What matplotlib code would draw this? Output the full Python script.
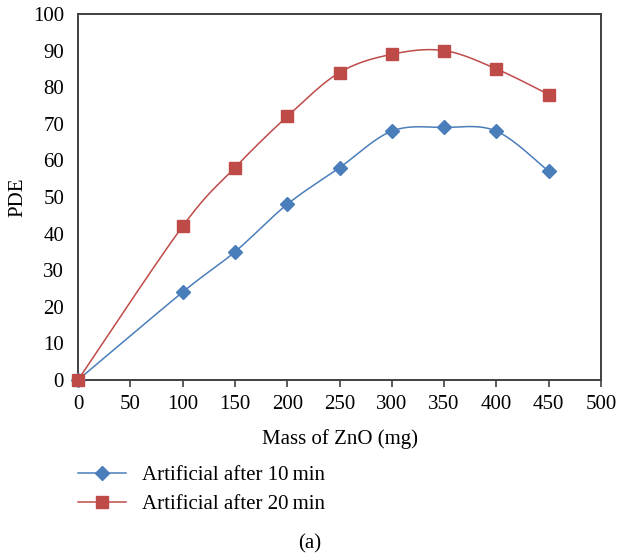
import numpy as np
import matplotlib
matplotlib.use("Agg")
import matplotlib.pyplot as plt
from matplotlib.lines import Line2D

mass = [0, 100, 150, 200, 250, 300, 350, 400, 450]
pde_10 = [0, 24, 35, 48, 58, 68, 69, 68, 57]
pde_20 = [0, 42, 58, 72, 84, 89, 90, 85, 78]
labels = ["Artificial after 10\u2009min", "Artificial after 20\u2009min"]
x_ticks = list(range(0, 501, 50))
y_ticks = list(range(0, 101, 10))

blue = "#4A7EBB"
red = "#BE4B48"

plt.rcParams['font.family'] = ['Liberation Serif', 'DejaVu Serif']
FS = 15


def smooth(xs, ys, n=30):
    P = np.column_stack([xs, ys]).astype(float)
    m = len(P)
    out = []
    for i in range(m - 1):
        p0 = P[i - 1] if i > 0 else P[i]
        p1 = P[i]
        p2 = P[i + 1]
        p3 = P[i + 2] if i + 2 < m else P[i + 1]
        c1 = p1 + (p2 - p0) / 6.0
        c2 = p2 - (p3 - p1) / 6.0
        t = np.linspace(0, 1, n)[:, None]
        seg = ((1 - t) ** 3) * p1 + 3 * ((1 - t) ** 2) * t * c1 + 3 * (1 - t) * t ** 2 * c2 + t ** 3 * p2
        out.append(seg if i == 0 else seg[1:])
    c = np.vstack(out)
    return c[:, 0], c[:, 1]


fig = plt.figure(figsize=(6.17, 5.56), dpi=100)
ax = fig.add_axes([78 / 617, (556 - 380) / 556, (601 - 78) / 617, (380 - 14) / 556])

for ys, col, mk, ms in [(pde_10, blue, 'D', 7), (pde_20, red, 's', 8.5)]:
    sx, sy = smooth(mass, ys)
    ax.plot(sx, sy, color=col, lw=1.1, clip_on=False, zorder=3)
    ax.plot(mass, ys, linestyle='none', marker=mk, ms=ms, color=col,
            markeredgecolor=col, clip_on=False, zorder=4)

ax.set_xlim(0, 500)
ax.set_ylim(0, 100)
ax.set_xticks(x_ticks)
ax.set_yticks(y_ticks)
ax.tick_params(axis='x', direction='out', length=5, width=1.2, color='#404040',
               labelsize=FS, pad=6)
ax.tick_params(axis='y', length=0, labelsize=FS, pad=10)
for s in ax.spines.values():
    s.set_color('#404040')
    s.set_linewidth(1.4)

ax.set_xlabel("Mass of ZnO (mg)", fontsize=FS, labelpad=11)
ax.set_ylabel("PDE", fontsize=FS)
ax.yaxis.set_label_coords((27 - 78) / 523, 0.5)

handles = [
    Line2D([], [], color=blue, lw=1.1, marker='D', ms=7, markeredgecolor=blue),
    Line2D([], [], color=red, lw=1.1, marker='s', ms=8.5, markeredgecolor=red),
]
fig.legend(handles, labels, loc='center left', bbox_to_anchor=(78 / 617, (556 - 490) / 556),
           frameon=False, fontsize=FS, handlelength=2.3, handletextpad=0.75,
           labelspacing=0.45, borderaxespad=0, borderpad=0)

fig.text(310 / 617, (556 - 544) / 556, "(a)", ha='center', va='center', fontsize=FS)

fig.savefig("out.png", dpi=100)
